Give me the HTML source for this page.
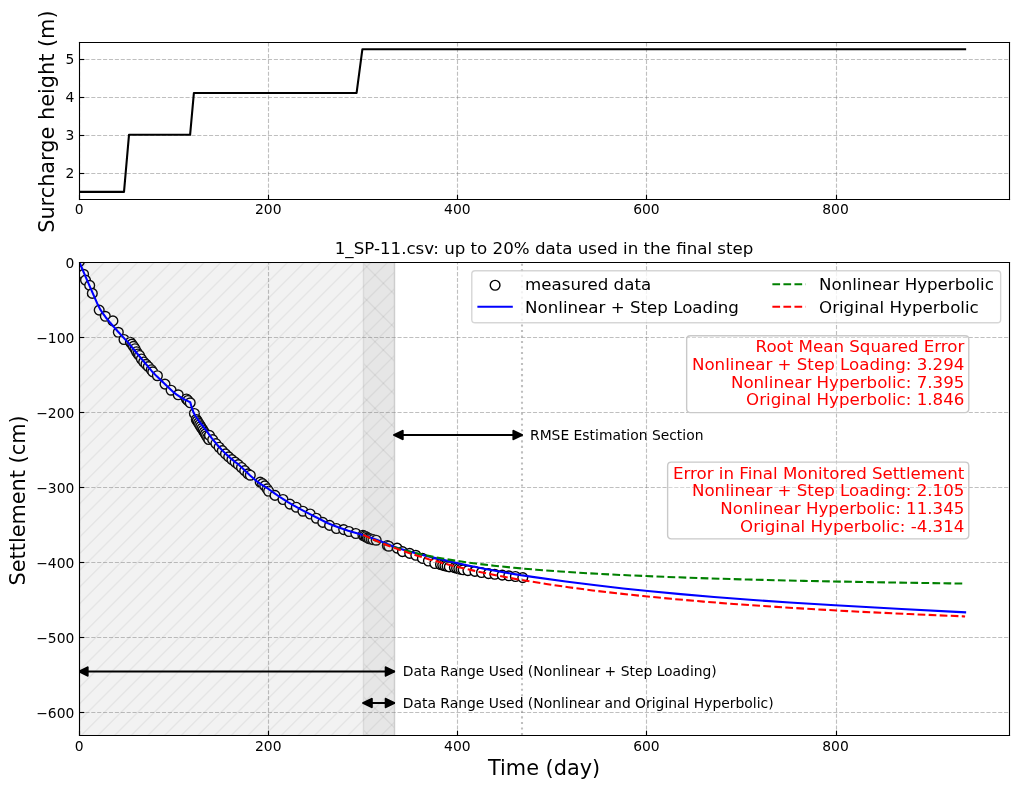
<!DOCTYPE html>
<html><head><meta charset="utf-8"><title>Settlement plot</title>
<style>html,body{margin:0;padding:0;background:#fff;overflow:hidden}svg{display:block;will-change:transform}
text{font-family:"DejaVu Sans","Liberation Sans",sans-serif}</style></head>
<body>
<svg width="1018" height="789" viewBox="0 0 732.96 568.08" version="1.1">

<defs>
<style type="text/css">*{stroke-linejoin: round; stroke-linecap: butt}</style>
</defs>
<g id="figure_1">
<g id="patch_1">
<path d="M 0 568.08
L 732.96 568.08
L 732.96 0
L 0 0
z
" style="fill: #ffffff"/>
</g>
<g id="axes_1">
<g id="patch_2">
<path d="M 56.988 143.316
L 726.48 143.316
L 726.48 30.276
L 56.988 30.276
z
" style="fill: #ffffff"/>
</g>
<g id="matplotlib.axis_1">
<g id="xtick_1">
<g id="line2d_1">
<path d="M 57.2400 143.6400
L 57.2400 30.6000
" clip-path="url(#p3e87ea8ec2)" style="fill: none; stroke-dasharray: 2.96,1.28; stroke-dashoffset: 0; stroke: #808080; stroke-opacity: 0.5; stroke-width: 0.8"/>
</g>
<g id="line2d_2">
<defs>
<path id="m92da7aff10" d="M 0 0
L 0 -3.5
" style="stroke: #000000; stroke-width: 0.8"/>
</defs>
<g>
<use href="#m92da7aff10" x="57.2400" y="143.6400" style="stroke: #000000; stroke-width: 0.8"/>
</g>
</g>
<g id="text_1">
<text style="font-size: 10px; font-family: 'DejaVu Sans', 'Bitstream Vera Sans', 'Computer Modern Sans Serif', 'Lucida Grande', 'Verdana', 'Geneva', 'Lucid', 'Arial', 'Helvetica', 'Avant Garde', sans-serif; text-anchor: middle" x="56.988" y="154.414438" transform="rotate(-0 56.988 154.414438)">0</text>
</g>
</g>
<g id="xtick_2">
<g id="line2d_3">
<path d="M 193.3200 143.6400
L 193.3200 30.6000
" clip-path="url(#p3e87ea8ec2)" style="fill: none; stroke-dasharray: 2.96,1.28; stroke-dashoffset: 0; stroke: #808080; stroke-opacity: 0.5; stroke-width: 0.8"/>
</g>
<g id="line2d_4">
<g>
<use href="#m92da7aff10" x="193.3200" y="143.6400" style="stroke: #000000; stroke-width: 0.8"/>
</g>
</g>
<g id="text_2">
<text style="font-size: 10px; font-family: 'DejaVu Sans', 'Bitstream Vera Sans', 'Computer Modern Sans Serif', 'Lucida Grande', 'Verdana', 'Geneva', 'Lucid', 'Arial', 'Helvetica', 'Avant Garde', sans-serif; text-anchor: middle" x="193.14" y="154.414438" transform="rotate(-0 193.14 154.414438)">200</text>
</g>
</g>
<g id="xtick_3">
<g id="line2d_5">
<path d="M 329.4000 143.6400
L 329.4000 30.6000
" clip-path="url(#p3e87ea8ec2)" style="fill: none; stroke-dasharray: 2.96,1.28; stroke-dashoffset: 0; stroke: #808080; stroke-opacity: 0.5; stroke-width: 0.8"/>
</g>
<g id="line2d_6">
<g>
<use href="#m92da7aff10" x="329.4000" y="143.6400" style="stroke: #000000; stroke-width: 0.8"/>
</g>
</g>
<g id="text_3">
<text style="font-size: 10px; font-family: 'DejaVu Sans', 'Bitstream Vera Sans', 'Computer Modern Sans Serif', 'Lucida Grande', 'Verdana', 'Geneva', 'Lucid', 'Arial', 'Helvetica', 'Avant Garde', sans-serif; text-anchor: middle" x="329.292" y="154.414438" transform="rotate(-0 329.292 154.414438)">400</text>
</g>
</g>
<g id="xtick_4">
<g id="line2d_7">
<path d="M 465.4800 143.6400
L 465.4800 30.6000
" clip-path="url(#p3e87ea8ec2)" style="fill: none; stroke-dasharray: 2.96,1.28; stroke-dashoffset: 0; stroke: #808080; stroke-opacity: 0.5; stroke-width: 0.8"/>
</g>
<g id="line2d_8">
<g>
<use href="#m92da7aff10" x="465.4800" y="143.6400" style="stroke: #000000; stroke-width: 0.8"/>
</g>
</g>
<g id="text_4">
<text style="font-size: 10px; font-family: 'DejaVu Sans', 'Bitstream Vera Sans', 'Computer Modern Sans Serif', 'Lucida Grande', 'Verdana', 'Geneva', 'Lucid', 'Arial', 'Helvetica', 'Avant Garde', sans-serif; text-anchor: middle" x="465.444" y="154.414438" transform="rotate(-0 465.444 154.414438)">600</text>
</g>
</g>
<g id="xtick_5">
<g id="line2d_9">
<path d="M 602.2800 143.6400
L 602.2800 30.6000
" clip-path="url(#p3e87ea8ec2)" style="fill: none; stroke-dasharray: 2.96,1.28; stroke-dashoffset: 0; stroke: #808080; stroke-opacity: 0.5; stroke-width: 0.8"/>
</g>
<g id="line2d_10">
<g>
<use href="#m92da7aff10" x="602.2800" y="143.6400" style="stroke: #000000; stroke-width: 0.8"/>
</g>
</g>
<g id="text_5">
<text style="font-size: 10px; font-family: 'DejaVu Sans', 'Bitstream Vera Sans', 'Computer Modern Sans Serif', 'Lucida Grande', 'Verdana', 'Geneva', 'Lucid', 'Arial', 'Helvetica', 'Avant Garde', sans-serif; text-anchor: middle" x="601.596" y="154.414438" transform="rotate(-0 601.596 154.414438)">800</text>
</g>
</g>
</g>
<g id="matplotlib.axis_2">
<g id="ytick_1">
<g id="line2d_11">
<path d="M 57.2400 124.9200
L 726.8400 124.9200
" clip-path="url(#p3e87ea8ec2)" style="fill: none; stroke-dasharray: 2.96,1.28; stroke-dashoffset: 0; stroke: #808080; stroke-opacity: 0.5; stroke-width: 0.8"/>
</g>
<g id="line2d_12">
<defs>
<path id="m33c4ce201d" d="M 0 0
L 3.5 0
" style="stroke: #000000; stroke-width: 0.8"/>
</defs>
<g>
<use href="#m33c4ce201d" x="57.2400" y="124.9200" style="stroke: #000000; stroke-width: 0.8"/>
</g>
</g>
<g id="text_6">
<text style="font-size: 10px; font-family: 'DejaVu Sans', 'Bitstream Vera Sans', 'Computer Modern Sans Serif', 'Lucida Grande', 'Verdana', 'Geneva', 'Lucid', 'Arial', 'Helvetica', 'Avant Garde', sans-serif; text-anchor: end" x="53.488" y="128.275219" transform="rotate(-0 53.488 128.275219)">2</text>
</g>
</g>
<g id="ytick_2">
<g id="line2d_13">
<path d="M 57.2400 97.5600
L 726.8400 97.5600
" clip-path="url(#p3e87ea8ec2)" style="fill: none; stroke-dasharray: 2.96,1.28; stroke-dashoffset: 0; stroke: #808080; stroke-opacity: 0.5; stroke-width: 0.8"/>
</g>
<g id="line2d_14">
<g>
<use href="#m33c4ce201d" x="57.2400" y="97.5600" style="stroke: #000000; stroke-width: 0.8"/>
</g>
</g>
<g id="text_7">
<text style="font-size: 10px; font-family: 'DejaVu Sans', 'Bitstream Vera Sans', 'Computer Modern Sans Serif', 'Lucida Grande', 'Verdana', 'Geneva', 'Lucid', 'Arial', 'Helvetica', 'Avant Garde', sans-serif; text-anchor: end" x="53.488" y="100.871582" transform="rotate(-0 53.488 100.871582)">3</text>
</g>
</g>
<g id="ytick_3">
<g id="line2d_15">
<path d="M 57.2400 70.2000
L 726.8400 70.2000
" clip-path="url(#p3e87ea8ec2)" style="fill: none; stroke-dasharray: 2.96,1.28; stroke-dashoffset: 0; stroke: #808080; stroke-opacity: 0.5; stroke-width: 0.8"/>
</g>
<g id="line2d_16">
<g>
<use href="#m33c4ce201d" x="57.2400" y="70.2000" style="stroke: #000000; stroke-width: 0.8"/>
</g>
</g>
<g id="text_8">
<text style="font-size: 10px; font-family: 'DejaVu Sans', 'Bitstream Vera Sans', 'Computer Modern Sans Serif', 'Lucida Grande', 'Verdana', 'Geneva', 'Lucid', 'Arial', 'Helvetica', 'Avant Garde', sans-serif; text-anchor: end" x="53.488" y="73.467946" transform="rotate(-0 53.488 73.467946)">4</text>
</g>
</g>
<g id="ytick_4">
<g id="line2d_17">
<path d="M 57.2400 42.8400
L 726.8400 42.8400
" clip-path="url(#p3e87ea8ec2)" style="fill: none; stroke-dasharray: 2.96,1.28; stroke-dashoffset: 0; stroke: #808080; stroke-opacity: 0.5; stroke-width: 0.8"/>
</g>
<g id="line2d_18">
<g>
<use href="#m33c4ce201d" x="57.2400" y="42.8400" style="stroke: #000000; stroke-width: 0.8"/>
</g>
</g>
<g id="text_9">
<text style="font-size: 10px; font-family: 'DejaVu Sans', 'Bitstream Vera Sans', 'Computer Modern Sans Serif', 'Lucida Grande', 'Verdana', 'Geneva', 'Lucid', 'Arial', 'Helvetica', 'Avant Garde', sans-serif; text-anchor: end" x="53.488" y="46.06431" transform="rotate(-0 53.488 46.06431)">5</text>
</g>
</g>
<g id="text_10">
<g transform="translate(-1.440 0.792)"><text style="font-size: 15px; font-family: 'DejaVu Sans', 'Bitstream Vera Sans', 'Computer Modern Sans Serif', 'Lucida Grande', 'Verdana', 'Geneva', 'Lucid', 'Arial', 'Helvetica', 'Avant Garde', sans-serif; text-anchor: middle" x="40.005969" y="86.796" transform="rotate(-90 40.005969 86.796)">Surcharge height (m)</text></g>
</g>
</g>
<g id="line2d_19">
<path d="M 56.988 138.177818
L 89.28 138.177818
L 92.88 97.072364
L 136.872 97.072364
L 139.608 66.928364
L 256.752 66.928364
L 260.928 35.414182
L 694.872 35.414182
" clip-path="url(#p3e87ea8ec2)" style="fill: none; stroke: #000000; stroke-width: 1.5; stroke-linecap: square"/>
</g>
<g id="patch_3">
<path d="M 57.2400 143.6400
L 57.2400 30.6000
" style="fill: none; stroke: #000000; stroke-width: 0.8; stroke-linejoin: miter; stroke-linecap: square"/>
</g>
<g id="patch_4">
<path d="M 726.8400 143.6400
L 726.8400 30.6000
" style="fill: none; stroke: #000000; stroke-width: 0.8; stroke-linejoin: miter; stroke-linecap: square"/>
</g>
<g id="patch_5">
<path d="M 57.2400 143.6400
L 726.8400 143.6400
" style="fill: none; stroke: #000000; stroke-width: 0.8; stroke-linejoin: miter; stroke-linecap: square"/>
</g>
<g id="patch_6">
<path d="M 57.2400 30.6000
L 726.8400 30.6000
" style="fill: none; stroke: #000000; stroke-width: 0.8; stroke-linejoin: miter; stroke-linecap: square"/>
</g>
</g>
<g id="axes_2">
<g id="patch_7">
<path d="M 56.988 529.416
L 726.48 529.416
L 726.48 188.928
L 56.988 188.928
z
" style="fill: #ffffff"/>
</g>
<g id="line2d_20">
<defs>
<path id="m0ef753e16d" d="M 0 3.5
C 0.928211 3.5 1.81853 3.131218 2.474874 2.474874
C 3.131218 1.81853 3.5 0.928211 3.5 0
C 3.5 -0.928211 3.131218 -1.81853 2.474874 -2.474874
C 1.81853 -3.131218 0.928211 -3.5 0 -3.5
C -0.928211 -3.5 -1.81853 -3.131218 -2.474874 -2.474874
C -3.131218 -1.81853 -3.5 -0.928211 -3.5 0
C -3.5 0.928211 -3.131218 1.81853 -2.474874 2.474874
C -1.81853 3.131218 -0.928211 3.5 0 3.5
z
" style="stroke: #000000"/>
</defs>
<g clip-path="url(#p34df9579a1)">
<use href="#m0ef753e16d" x="57.168" y="188.352" style="fill: #ffffff; stroke: #000000"/>
<use href="#m0ef753e16d" x="60.192" y="197.496" style="fill: #ffffff; stroke: #000000"/>
<use href="#m0ef753e16d" x="61.56" y="201.672" style="fill: #ffffff; stroke: #000000"/>
<use href="#m0ef753e16d" x="64.584" y="205.488" style="fill: #ffffff; stroke: #000000"/>
<use href="#m0ef753e16d" x="66.456" y="211.248" style="fill: #ffffff; stroke: #000000"/>
<use href="#m0ef753e16d" x="71.424" y="223.272" style="fill: #ffffff; stroke: #000000"/>
<use href="#m0ef753e16d" x="75.816" y="227.736" style="fill: #ffffff; stroke: #000000"/>
<use href="#m0ef753e16d" x="81.288" y="231.048" style="fill: #ffffff; stroke: #000000"/>
<use href="#m0ef753e16d" x="85.176" y="239.256" style="fill: #ffffff; stroke: #000000"/>
<use href="#m0ef753e16d" x="89.28" y="244.44" style="fill: #ffffff; stroke: #000000"/>
<use href="#m0ef753e16d" x="93.888" y="246.384" style="fill: #ffffff; stroke: #000000"/>
<use href="#m0ef753e16d" x="94.968" y="247.752" style="fill: #ffffff; stroke: #000000"/>
<use href="#m0ef753e16d" x="96.12" y="249.408" style="fill: #ffffff; stroke: #000000"/>
<use href="#m0ef753e16d" x="97.2" y="251.064" style="fill: #ffffff; stroke: #000000"/>
<use href="#m0ef753e16d" x="98.28" y="253.224" style="fill: #ffffff; stroke: #000000"/>
<use href="#m0ef753e16d" x="99.36" y="254.88" style="fill: #ffffff; stroke: #000000"/>
<use href="#m0ef753e16d" x="100.44" y="255.96" style="fill: #ffffff; stroke: #000000"/>
<use href="#m0ef753e16d" x="101.808" y="258.48" style="fill: #ffffff; stroke: #000000"/>
<use href="#m0ef753e16d" x="103.464" y="260.64" style="fill: #ffffff; stroke: #000000"/>
<use href="#m0ef753e16d" x="105.12" y="262.296" style="fill: #ffffff; stroke: #000000"/>
<use href="#m0ef753e16d" x="106.776" y="263.952" style="fill: #ffffff; stroke: #000000"/>
<use href="#m0ef753e16d" x="108.936" y="266.184" style="fill: #ffffff; stroke: #000000"/>
<use href="#m0ef753e16d" x="110.016" y="267.768" style="fill: #ffffff; stroke: #000000"/>
<use href="#m0ef753e16d" x="113.328" y="270.504" style="fill: #ffffff; stroke: #000000"/>
<use href="#m0ef753e16d" x="118.8" y="276.552" style="fill: #ffffff; stroke: #000000"/>
<use href="#m0ef753e16d" x="123.192" y="280.944" style="fill: #ffffff; stroke: #000000"/>
<use href="#m0ef753e16d" x="128.304" y="284.256" style="fill: #ffffff; stroke: #000000"/>
<use href="#m0ef753e16d" x="134.208" y="287.28" style="fill: #ffffff; stroke: #000000"/>
<use href="#m0ef753e16d" x="135.288" y="288.36" style="fill: #ffffff; stroke: #000000"/>
<use href="#m0ef753e16d" x="136.944" y="290.016" style="fill: #ffffff; stroke: #000000"/>
<use href="#m0ef753e16d" x="139.968" y="297.72" style="fill: #ffffff; stroke: #000000"/>
<use href="#m0ef753e16d" x="141.336" y="302.04" style="fill: #ffffff; stroke: #000000"/>
<use href="#m0ef753e16d" x="142.056" y="303.12" style="fill: #ffffff; stroke: #000000"/>
<use href="#m0ef753e16d" x="142.884" y="304.452" style="fill: #ffffff; stroke: #000000"/>
<use href="#m0ef753e16d" x="143.712" y="305.784" style="fill: #ffffff; stroke: #000000"/>
<use href="#m0ef753e16d" x="144.54" y="307.116" style="fill: #ffffff; stroke: #000000"/>
<use href="#m0ef753e16d" x="145.368" y="308.448" style="fill: #ffffff; stroke: #000000"/>
<use href="#m0ef753e16d" x="146.196" y="309.78" style="fill: #ffffff; stroke: #000000"/>
<use href="#m0ef753e16d" x="147.024" y="311.112" style="fill: #ffffff; stroke: #000000"/>
<use href="#m0ef753e16d" x="147.852" y="312.444" style="fill: #ffffff; stroke: #000000"/>
<use href="#m0ef753e16d" x="148.68" y="313.776" style="fill: #ffffff; stroke: #000000"/>
<use href="#m0ef753e16d" x="149.508" y="315.108" style="fill: #ffffff; stroke: #000000"/>
<use href="#m0ef753e16d" x="150.336" y="316.44" style="fill: #ffffff; stroke: #000000"/>
<use href="#m0ef753e16d" x="150.84" y="313.497071" style="fill: #ffffff; stroke: #000000"/>
<use href="#m0ef753e16d" x="153.144" y="316.533675" style="fill: #ffffff; stroke: #000000"/>
<use href="#m0ef753e16d" x="155.448" y="319.370405" style="fill: #ffffff; stroke: #000000"/>
<use href="#m0ef753e16d" x="157.752" y="322.021653" style="fill: #ffffff; stroke: #000000"/>
<use href="#m0ef753e16d" x="160.056" y="324.479631" style="fill: #ffffff; stroke: #000000"/>
<use href="#m0ef753e16d" x="162.36" y="326.792403" style="fill: #ffffff; stroke: #000000"/>
<use href="#m0ef753e16d" x="164.664" y="328.955355" style="fill: #ffffff; stroke: #000000"/>
<use href="#m0ef753e16d" x="166.968" y="330.923764" style="fill: #ffffff; stroke: #000000"/>
<use href="#m0ef753e16d" x="169.272" y="332.714242" style="fill: #ffffff; stroke: #000000"/>
<use href="#m0ef753e16d" x="171.576" y="334.544445" style="fill: #ffffff; stroke: #000000"/>
<use href="#m0ef753e16d" x="173.88" y="336.616558" style="fill: #ffffff; stroke: #000000"/>
<use href="#m0ef753e16d" x="176.184" y="338.881462" style="fill: #ffffff; stroke: #000000"/>
<use href="#m0ef753e16d" x="178.488" y="341.131207" style="fill: #ffffff; stroke: #000000"/>
<use href="#m0ef753e16d" x="180.216" y="342.144" style="fill: #ffffff; stroke: #000000"/>
<use href="#m0ef753e16d" x="187.344" y="347.112" style="fill: #ffffff; stroke: #000000"/>
<use href="#m0ef753e16d" x="189" y="348.192" style="fill: #ffffff; stroke: #000000"/>
<use href="#m0ef753e16d" x="190.656" y="349.848" style="fill: #ffffff; stroke: #000000"/>
<use href="#m0ef753e16d" x="192.312" y="352.008" style="fill: #ffffff; stroke: #000000"/>
<use href="#m0ef753e16d" x="193.392" y="353.664" style="fill: #ffffff; stroke: #000000"/>
<use href="#m0ef753e16d" x="198" y="356.688" style="fill: #ffffff; stroke: #000000"/>
<use href="#m0ef753e16d" x="203.76" y="359.64" style="fill: #ffffff; stroke: #000000"/>
<use href="#m0ef753e16d" x="208.728" y="362.952" style="fill: #ffffff; stroke: #000000"/>
<use href="#m0ef753e16d" x="213.336" y="365.184" style="fill: #ffffff; stroke: #000000"/>
<use href="#m0ef753e16d" x="218.088" y="368.064" style="fill: #ffffff; stroke: #000000"/>
<use href="#m0ef753e16d" x="223.344" y="370.08" style="fill: #ffffff; stroke: #000000"/>
<use href="#m0ef753e16d" x="227.736" y="373.104" style="fill: #ffffff; stroke: #000000"/>
<use href="#m0ef753e16d" x="232.416" y="376.128" style="fill: #ffffff; stroke: #000000"/>
<use href="#m0ef753e16d" x="237.312" y="378.288" style="fill: #ffffff; stroke: #000000"/>
<use href="#m0ef753e16d" x="242.208" y="380.52" style="fill: #ffffff; stroke: #000000"/>
<use href="#m0ef753e16d" x="247.464" y="381.312" style="fill: #ffffff; stroke: #000000"/>
<use href="#m0ef753e16d" x="251.28" y="382.68" style="fill: #ffffff; stroke: #000000"/>
<use href="#m0ef753e16d" x="256.176" y="384.12" style="fill: #ffffff; stroke: #000000"/>
<use href="#m0ef753e16d" x="261.288" y="385.344" style="fill: #ffffff; stroke: #000000"/>
<use href="#m0ef753e16d" x="262.368" y="385.92" style="fill: #ffffff; stroke: #000000"/>
<use href="#m0ef753e16d" x="263.52" y="386.424" style="fill: #ffffff; stroke: #000000"/>
<use href="#m0ef753e16d" x="264.6" y="387.288" style="fill: #ffffff; stroke: #000000"/>
<use href="#m0ef753e16d" x="265.68" y="387.792" style="fill: #ffffff; stroke: #000000"/>
<use href="#m0ef753e16d" x="267.12" y="388.08" style="fill: #ffffff; stroke: #000000"/>
<use href="#m0ef753e16d" x="268.56" y="388.512" style="fill: #ffffff; stroke: #000000"/>
<use href="#m0ef753e16d" x="270.864" y="388.944" style="fill: #ffffff; stroke: #000000"/>
<use href="#m0ef753e16d" x="278.856" y="392.76" style="fill: #ffffff; stroke: #000000"/>
<use href="#m0ef753e16d" x="279.936" y="393.264" style="fill: #ffffff; stroke: #000000"/>
<use href="#m0ef753e16d" x="285.912" y="394.632" style="fill: #ffffff; stroke: #000000"/>
<use href="#m0ef753e16d" x="289.8" y="397.152" style="fill: #ffffff; stroke: #000000"/>
<use href="#m0ef753e16d" x="294.984" y="398.448" style="fill: #ffffff; stroke: #000000"/>
<use href="#m0ef753e16d" x="299.376" y="399.816" style="fill: #ffffff; stroke: #000000"/>
<use href="#m0ef753e16d" x="304.128" y="402.048" style="fill: #ffffff; stroke: #000000"/>
<use href="#m0ef753e16d" x="308.448" y="403.92" style="fill: #ffffff; stroke: #000000"/>
<use href="#m0ef753e16d" x="313.056" y="405.72" style="fill: #ffffff; stroke: #000000"/>
<use href="#m0ef753e16d" x="317.16" y="406.44" style="fill: #ffffff; stroke: #000000"/>
<use href="#m0ef753e16d" x="318.744" y="406.872" style="fill: #ffffff; stroke: #000000"/>
<use href="#m0ef753e16d" x="320.328" y="407.304" style="fill: #ffffff; stroke: #000000"/>
<use href="#m0ef753e16d" x="321.912" y="407.736" style="fill: #ffffff; stroke: #000000"/>
<use href="#m0ef753e16d" x="323.496" y="408.168" style="fill: #ffffff; stroke: #000000"/>
<use href="#m0ef753e16d" x="327.168" y="408.672" style="fill: #ffffff; stroke: #000000"/>
<use href="#m0ef753e16d" x="328.752" y="409.068" style="fill: #ffffff; stroke: #000000"/>
<use href="#m0ef753e16d" x="330.336" y="409.464" style="fill: #ffffff; stroke: #000000"/>
<use href="#m0ef753e16d" x="331.92" y="409.86" style="fill: #ffffff; stroke: #000000"/>
<use href="#m0ef753e16d" x="333.504" y="410.256" style="fill: #ffffff; stroke: #000000"/>
<use href="#m0ef753e16d" x="336.888" y="410.832" style="fill: #ffffff; stroke: #000000"/>
<use href="#m0ef753e16d" x="341.928" y="411.408" style="fill: #ffffff; stroke: #000000"/>
<use href="#m0ef753e16d" x="346.68" y="412.2" style="fill: #ffffff; stroke: #000000"/>
<use href="#m0ef753e16d" x="351.72" y="412.992" style="fill: #ffffff; stroke: #000000"/>
<use href="#m0ef753e16d" x="356.256" y="413.496" style="fill: #ffffff; stroke: #000000"/>
<use href="#m0ef753e16d" x="361.584" y="414.072" style="fill: #ffffff; stroke: #000000"/>
<use href="#m0ef753e16d" x="366.336" y="414.576" style="fill: #ffffff; stroke: #000000"/>
<use href="#m0ef753e16d" x="371.088" y="415.08" style="fill: #ffffff; stroke: #000000"/>
<use href="#m0ef753e16d" x="376.416" y="415.872" style="fill: #ffffff; stroke: #000000"/>
</g>
</g>
<g id="patch_8">
<path d="M 57.2400 529.5600
L 284.0400 529.5600
L 284.0400 189.0000
L 57.2400 189.0000
z
" clip-path="url(#p34df9579a1)" style="fill: url(#h735a1b40cc); opacity: 0.1; stroke: #000000; stroke-linejoin: miter"/>
</g>
<g id="patch_9">
<path d="M 261.7200 529.5600
L 284.0400 529.5600
L 284.0400 189.0000
L 261.7200 189.0000
z
" clip-path="url(#p34df9579a1)" style="fill: url(#ha346d79425); opacity: 0.1; stroke: #000000; stroke-linejoin: miter"/>
</g>
<g id="matplotlib.axis_3">
<g id="xtick_6">
<g id="line2d_21">
<path d="M 57.2400 529.5600
L 57.2400 189.0000
" clip-path="url(#p34df9579a1)" style="fill: none; stroke-dasharray: 2.96,1.28; stroke-dashoffset: 0; stroke: #808080; stroke-opacity: 0.5; stroke-width: 0.8"/>
</g>
<g id="line2d_22">
<g>
<use href="#m92da7aff10" x="57.2400" y="529.5600" style="stroke: #000000; stroke-width: 0.8"/>
</g>
</g>
<g id="text_11">
<text style="font-size: 10px; font-family: 'DejaVu Sans', 'Bitstream Vera Sans', 'Computer Modern Sans Serif', 'Lucida Grande', 'Verdana', 'Geneva', 'Lucid', 'Arial', 'Helvetica', 'Avant Garde', sans-serif; text-anchor: middle" x="56.988" y="540.514437" transform="rotate(-0 56.988 540.514437)">0</text>
</g>
</g>
<g id="xtick_7">
<g id="line2d_23">
<path d="M 193.3200 529.5600
L 193.3200 189.0000
" clip-path="url(#p34df9579a1)" style="fill: none; stroke-dasharray: 2.96,1.28; stroke-dashoffset: 0; stroke: #808080; stroke-opacity: 0.5; stroke-width: 0.8"/>
</g>
<g id="line2d_24">
<g>
<use href="#m92da7aff10" x="193.3200" y="529.5600" style="stroke: #000000; stroke-width: 0.8"/>
</g>
</g>
<g id="text_12">
<text style="font-size: 10px; font-family: 'DejaVu Sans', 'Bitstream Vera Sans', 'Computer Modern Sans Serif', 'Lucida Grande', 'Verdana', 'Geneva', 'Lucid', 'Arial', 'Helvetica', 'Avant Garde', sans-serif; text-anchor: middle" x="193.14" y="540.514437" transform="rotate(-0 193.14 540.514437)">200</text>
</g>
</g>
<g id="xtick_8">
<g id="line2d_25">
<path d="M 329.4000 529.5600
L 329.4000 189.0000
" clip-path="url(#p34df9579a1)" style="fill: none; stroke-dasharray: 2.96,1.28; stroke-dashoffset: 0; stroke: #808080; stroke-opacity: 0.5; stroke-width: 0.8"/>
</g>
<g id="line2d_26">
<g>
<use href="#m92da7aff10" x="329.4000" y="529.5600" style="stroke: #000000; stroke-width: 0.8"/>
</g>
</g>
<g id="text_13">
<text style="font-size: 10px; font-family: 'DejaVu Sans', 'Bitstream Vera Sans', 'Computer Modern Sans Serif', 'Lucida Grande', 'Verdana', 'Geneva', 'Lucid', 'Arial', 'Helvetica', 'Avant Garde', sans-serif; text-anchor: middle" x="329.292" y="540.514437" transform="rotate(-0 329.292 540.514437)">400</text>
</g>
</g>
<g id="xtick_9">
<g id="line2d_27">
<path d="M 465.4800 529.5600
L 465.4800 189.0000
" clip-path="url(#p34df9579a1)" style="fill: none; stroke-dasharray: 2.96,1.28; stroke-dashoffset: 0; stroke: #808080; stroke-opacity: 0.5; stroke-width: 0.8"/>
</g>
<g id="line2d_28">
<g>
<use href="#m92da7aff10" x="465.4800" y="529.5600" style="stroke: #000000; stroke-width: 0.8"/>
</g>
</g>
<g id="text_14">
<text style="font-size: 10px; font-family: 'DejaVu Sans', 'Bitstream Vera Sans', 'Computer Modern Sans Serif', 'Lucida Grande', 'Verdana', 'Geneva', 'Lucid', 'Arial', 'Helvetica', 'Avant Garde', sans-serif; text-anchor: middle" x="465.444" y="540.514437" transform="rotate(-0 465.444 540.514437)">600</text>
</g>
</g>
<g id="xtick_10">
<g id="line2d_29">
<path d="M 602.2800 529.5600
L 602.2800 189.0000
" clip-path="url(#p34df9579a1)" style="fill: none; stroke-dasharray: 2.96,1.28; stroke-dashoffset: 0; stroke: #808080; stroke-opacity: 0.5; stroke-width: 0.8"/>
</g>
<g id="line2d_30">
<g>
<use href="#m92da7aff10" x="602.2800" y="529.5600" style="stroke: #000000; stroke-width: 0.8"/>
</g>
</g>
<g id="text_15">
<text style="font-size: 10px; font-family: 'DejaVu Sans', 'Bitstream Vera Sans', 'Computer Modern Sans Serif', 'Lucida Grande', 'Verdana', 'Geneva', 'Lucid', 'Arial', 'Helvetica', 'Avant Garde', sans-serif; text-anchor: middle" x="601.596" y="540.514437" transform="rotate(-0 601.596 540.514437)">800</text>
</g>
</g>
<g id="text_16">
<text style="font-size: 15px; font-family: 'DejaVu Sans', 'Bitstream Vera Sans', 'Computer Modern Sans Serif', 'Lucida Grande', 'Verdana', 'Geneva', 'Lucid', 'Arial', 'Helvetica', 'Avant Garde', sans-serif; text-anchor: middle" x="391.734" y="557.991781" transform="rotate(-0 391.734 557.991781)">Time (day)</text>
</g>
</g>
<g id="matplotlib.axis_4">
<g id="ytick_5">
<g id="line2d_31">
<path d="M 57.2400 513.0000
L 726.8400 513.0000
" clip-path="url(#p34df9579a1)" style="fill: none; stroke-dasharray: 2.96,1.28; stroke-dashoffset: 0; stroke: #808080; stroke-opacity: 0.5; stroke-width: 0.8"/>
</g>
<g id="line2d_32">
<g>
<use href="#m33c4ce201d" x="57.2400" y="513.0000" style="stroke: #000000; stroke-width: 0.8"/>
</g>
</g>
<g id="text_17">
<text style="font-size: 10px; font-family: 'DejaVu Sans', 'Bitstream Vera Sans', 'Computer Modern Sans Serif', 'Lucida Grande', 'Verdana', 'Geneva', 'Lucid', 'Arial', 'Helvetica', 'Avant Garde', sans-serif; text-anchor: end" x="53.488" y="516.727219" transform="rotate(-0 53.488 516.727219)">−600</text>
</g>
</g>
<g id="ytick_6">
<g id="line2d_33">
<path d="M 57.2400 459.0000
L 726.8400 459.0000
" clip-path="url(#p34df9579a1)" style="fill: none; stroke-dasharray: 2.96,1.28; stroke-dashoffset: 0; stroke: #808080; stroke-opacity: 0.5; stroke-width: 0.8"/>
</g>
<g id="line2d_34">
<g>
<use href="#m33c4ce201d" x="57.2400" y="459.0000" style="stroke: #000000; stroke-width: 0.8"/>
</g>
</g>
<g id="text_18">
<text style="font-size: 10px; font-family: 'DejaVu Sans', 'Bitstream Vera Sans', 'Computer Modern Sans Serif', 'Lucida Grande', 'Verdana', 'Geneva', 'Lucid', 'Arial', 'Helvetica', 'Avant Garde', sans-serif; text-anchor: end" x="53.488" y="462.727219" transform="rotate(-0 53.488 462.727219)">−500</text>
</g>
</g>
<g id="ytick_7">
<g id="line2d_35">
<path d="M 57.2400 405.0000
L 726.8400 405.0000
" clip-path="url(#p34df9579a1)" style="fill: none; stroke-dasharray: 2.96,1.28; stroke-dashoffset: 0; stroke: #808080; stroke-opacity: 0.5; stroke-width: 0.8"/>
</g>
<g id="line2d_36">
<g>
<use href="#m33c4ce201d" x="57.2400" y="405.0000" style="stroke: #000000; stroke-width: 0.8"/>
</g>
</g>
<g id="text_19">
<text style="font-size: 10px; font-family: 'DejaVu Sans', 'Bitstream Vera Sans', 'Computer Modern Sans Serif', 'Lucida Grande', 'Verdana', 'Geneva', 'Lucid', 'Arial', 'Helvetica', 'Avant Garde', sans-serif; text-anchor: end" x="53.488" y="408.727219" transform="rotate(-0 53.488 408.727219)">−400</text>
</g>
</g>
<g id="ytick_8">
<g id="line2d_37">
<path d="M 57.2400 351.0000
L 726.8400 351.0000
" clip-path="url(#p34df9579a1)" style="fill: none; stroke-dasharray: 2.96,1.28; stroke-dashoffset: 0; stroke: #808080; stroke-opacity: 0.5; stroke-width: 0.8"/>
</g>
<g id="line2d_38">
<g>
<use href="#m33c4ce201d" x="57.2400" y="351.0000" style="stroke: #000000; stroke-width: 0.8"/>
</g>
</g>
<g id="text_20">
<text style="font-size: 10px; font-family: 'DejaVu Sans', 'Bitstream Vera Sans', 'Computer Modern Sans Serif', 'Lucida Grande', 'Verdana', 'Geneva', 'Lucid', 'Arial', 'Helvetica', 'Avant Garde', sans-serif; text-anchor: end" x="53.488" y="354.727219" transform="rotate(-0 53.488 354.727219)">−300</text>
</g>
</g>
<g id="ytick_9">
<g id="line2d_39">
<path d="M 57.2400 297.0000
L 726.8400 297.0000
" clip-path="url(#p34df9579a1)" style="fill: none; stroke-dasharray: 2.96,1.28; stroke-dashoffset: 0; stroke: #808080; stroke-opacity: 0.5; stroke-width: 0.8"/>
</g>
<g id="line2d_40">
<g>
<use href="#m33c4ce201d" x="57.2400" y="297.0000" style="stroke: #000000; stroke-width: 0.8"/>
</g>
</g>
<g id="text_21">
<text style="font-size: 10px; font-family: 'DejaVu Sans', 'Bitstream Vera Sans', 'Computer Modern Sans Serif', 'Lucida Grande', 'Verdana', 'Geneva', 'Lucid', 'Arial', 'Helvetica', 'Avant Garde', sans-serif; text-anchor: end" x="53.488" y="300.727219" transform="rotate(-0 53.488 300.727219)">−200</text>
</g>
</g>
<g id="ytick_10">
<g id="line2d_41">
<path d="M 57.2400 243.0000
L 726.8400 243.0000
" clip-path="url(#p34df9579a1)" style="fill: none; stroke-dasharray: 2.96,1.28; stroke-dashoffset: 0; stroke: #808080; stroke-opacity: 0.5; stroke-width: 0.8"/>
</g>
<g id="line2d_42">
<g>
<use href="#m33c4ce201d" x="57.2400" y="243.0000" style="stroke: #000000; stroke-width: 0.8"/>
</g>
</g>
<g id="text_22">
<text style="font-size: 10px; font-family: 'DejaVu Sans', 'Bitstream Vera Sans', 'Computer Modern Sans Serif', 'Lucida Grande', 'Verdana', 'Geneva', 'Lucid', 'Arial', 'Helvetica', 'Avant Garde', sans-serif; text-anchor: end" x="53.488" y="246.727219" transform="rotate(-0 53.488 246.727219)">−100</text>
</g>
</g>
<g id="ytick_11">
<g id="line2d_43">
<path d="M 57.2400 189.0000
L 726.8400 189.0000
" clip-path="url(#p34df9579a1)" style="fill: none; stroke-dasharray: 2.96,1.28; stroke-dashoffset: 0; stroke: #808080; stroke-opacity: 0.5; stroke-width: 0.8"/>
</g>
<g id="line2d_44">
<g>
<use href="#m33c4ce201d" x="57.2400" y="189.0000" style="stroke: #000000; stroke-width: 0.8"/>
</g>
</g>
<g id="text_23">
<text style="font-size: 10px; font-family: 'DejaVu Sans', 'Bitstream Vera Sans', 'Computer Modern Sans Serif', 'Lucida Grande', 'Verdana', 'Geneva', 'Lucid', 'Arial', 'Helvetica', 'Avant Garde', sans-serif; text-anchor: end" x="53.488" y="192.727219" transform="rotate(-0 53.488 192.727219)">0</text>
</g>
</g>
<g id="text_24">
<g transform="translate(-0.720 1.152)"><text style="font-size: 15px; font-family: 'DejaVu Sans', 'Bitstream Vera Sans', 'Computer Modern Sans Serif', 'Lucida Grande', 'Verdana', 'Geneva', 'Lucid', 'Arial', 'Helvetica', 'Avant Garde', sans-serif; text-anchor: middle" x="18.901281" y="359.172" transform="rotate(-90 18.901281 359.172)">Settlement (cm)</text></g>
</g>
</g>
<g id="line2d_45">
<path d="M 57.24 188.928
L 62.446794 201.204157
L 70.457246 219.459868
L 72.059337 222.57562
L 74.06195 225.69622
L 76.064563 228.410721
L 78.868221 231.807684
L 84.87606 238.652279
L 91.284422 245.626851
L 96.491216 251.849238
L 109.30794 267.254061
L 112.912643 270.979932
L 118.119437 276.002414
L 124.928322 282.376129
L 126.930935 283.914557
L 130.535638 286.273535
L 133.339296 287.869929
L 135.742432 289.022717
L 136.944 289.512
L 136.944 289.512
L 138.194412 293.911695
L 139.444824 297.257011
L 140.695236 299.531445
L 143.19606 303.142163
L 145.696884 306.366414
L 148.822915 310.44844
L 152.574151 315.59307
L 156.325387 320.188532
L 159.451417 323.632661
L 162.577447 326.787032
L 165.703477 329.660942
L 168.829508 332.158209
L 171.955538 334.649277
L 174.456362 336.957049
L 180.083216 342.370374
L 184.459658 346.180943
L 186.960482 348.080683
L 190.086513 350.073061
L 193.837749 352.428623
L 198.214191 355.583002
L 201.965427 358.186441
L 206.967075 361.388497
L 211.343518 363.925431
L 218.220784 367.609857
L 235.726553 376.533652
L 240.102995 378.397879
L 244.479437 380.044358
L 250.731497 382.103048
L 257.608764 384.164844
L 263.538452 385.86883
L 270.073809 388.200516
L 274.430714 389.90664
L 283.144523 393.527434
L 287.501427 394.984988
L 294.036784 396.924089
L 302.750593 399.246558
L 313.642854 401.857362
L 335.427377 406.731107
L 348.49809 409.453137
L 359.390352 411.515076
L 370.282613 413.363462
L 383.353327 415.330394
L 407.316302 418.629232
L 429.100824 421.402131
L 448.706894 423.683892
L 468.312965 425.737507
L 490.097487 427.789177
L 514.060462 429.830604
L 542.380342 432.009596
L 568.521769 433.815767
L 601.198553 435.820105
L 649.124503 438.533323
L 688.336643 440.543599
L 694.872 440.856
L 694.872 440.856
" clip-path="url(#p34df9579a1)" style="fill: none; stroke: #0000ff; stroke-width: 1.5; stroke-linecap: square"/>
</g>
<g id="line2d_46">
<path d="M 261.36 385.128
L 265.709619 387.203772
L 271.50911 389.670511
L 277.308602 391.848636
L 283.108094 393.785999
L 288.907585 395.520429
L 296.15695 397.448682
L 303.406314 399.153692
L 312.105552 400.956063
L 320.804789 402.538577
L 330.9539 404.157069
L 342.552883 405.76205
L 355.601739 407.316822
L 370.100468 408.796392
L 386.04907 410.185536
L 403.447545 411.476637
L 423.745766 412.751698
L 446.943732 413.973083
L 473.041445 415.117427
L 503.488776 416.220438
L 538.285726 417.252633
L 578.882167 418.230283
L 626.727973 419.155327
L 683.273017 420.022617
L 694.872 420.17706
L 694.872 420.17706
" clip-path="url(#p34df9579a1)" style="fill: none; stroke-dasharray: 5.55,2.4; stroke-dashoffset: 0; stroke: #008000; stroke-width: 1.5"/>
</g>
<g id="line2d_47">
<path d="M 261.36 385.128
L 268.609365 388.39239
L 275.858729 391.408385
L 283.108094 394.203298
L 291.807331 397.298151
L 300.506569 400.14278
L 309.205806 402.766352
L 319.354916 405.58068
L 329.504027 408.161066
L 341.10301 410.85934
L 352.701993 413.323515
L 365.750849 415.852059
L 378.799706 418.155754
L 393.298435 420.486466
L 409.247037 422.809269
L 426.645512 425.095674
L 444.043987 427.160294
L 462.892334 429.182249
L 483.190555 431.145496
L 506.388522 433.157435
L 531.036361 435.06565
L 558.583946 436.963149
L 587.581405 438.735653
L 619.478609 440.463134
L 654.275559 442.126753
L 693.422127 443.770747
L 694.872 443.827581
L 694.872 443.827581
" clip-path="url(#p34df9579a1)" style="fill: none; stroke-dasharray: 5.55,2.4; stroke-dashoffset: 0; stroke: #ff0000; stroke-width: 1.5"/>
</g>
<g id="line2d_48">
<path d="M 375.8400 529.2000
L 375.8400 188.6400
" clip-path="url(#p34df9579a1)" style="fill: none; stroke-dasharray: 1.5,2.475; stroke-dashoffset: 0; stroke: #808080; stroke-opacity: 0.5; stroke-width: 1.5"/>
</g>
<g id="patch_10">
<path d="M 57.2400 529.5600
L 57.2400 189.0000
" style="fill: none; stroke: #000000; stroke-width: 0.8; stroke-linejoin: miter; stroke-linecap: square"/>
</g>
<g id="patch_11">
<path d="M 726.8400 529.5600
L 726.8400 189.0000
" style="fill: none; stroke: #000000; stroke-width: 0.8; stroke-linejoin: miter; stroke-linecap: square"/>
</g>
<g id="patch_12">
<path d="M 57.2400 529.5600
L 726.8400 529.5600
" style="fill: none; stroke: #000000; stroke-width: 0.8; stroke-linejoin: miter; stroke-linecap: square"/>
</g>
<g id="patch_13">
<path d="M 57.2400 189.0000
L 726.8400 189.0000
" style="fill: none; stroke: #000000; stroke-width: 0.8; stroke-linejoin: miter; stroke-linecap: square"/>
</g>
<g id="patch_14">
<path d="M 283.730949 483.48
Q 170.406 483.48 57.081051 483.48
" clip-path="url(#p34df9579a1)" style="fill: none; stroke: #000000; stroke-width: 1.5; stroke-linecap: round"/>
<path d="M 277.730949 480.48
L 283.730949 483.48
L 277.730949 486.48
z
" clip-path="url(#p34df9579a1)" style="stroke: #000000; stroke-width: 1.5; stroke-linecap: round"/>
<path d="M 63.081051 486.48
L 57.081051 483.48
L 63.081051 480.48
z
" clip-path="url(#p34df9579a1)" style="stroke: #000000; stroke-width: 1.5; stroke-linecap: round"/>
</g>
<g id="patch_15">
<path d="M 283.730949 506.16
Q 272.7 506.16 261.669051 506.16
" clip-path="url(#p34df9579a1)" style="fill: none; stroke: #000000; stroke-width: 1.5; stroke-linecap: round"/>
<path d="M 277.730949 503.16
L 283.730949 506.16
L 277.730949 509.16
z
" clip-path="url(#p34df9579a1)" style="stroke: #000000; stroke-width: 1.5; stroke-linecap: round"/>
<path d="M 267.669051 509.16
L 261.669051 506.16
L 267.669051 503.16
z
" clip-path="url(#p34df9579a1)" style="stroke: #000000; stroke-width: 1.5; stroke-linecap: round"/>
</g>
<g id="patch_16">
<path d="M 375.674949 313.2
Q 329.796 313.2 283.917051 313.2
" clip-path="url(#p34df9579a1)" style="fill: none; stroke: #000000; stroke-width: 1.5; stroke-linecap: round"/>
<path d="M 369.674949 310.2
L 375.674949 313.2
L 369.674949 316.2
z
" clip-path="url(#p34df9579a1)" style="stroke: #000000; stroke-width: 1.5; stroke-linecap: round"/>
<path d="M 289.917051 316.2
L 283.917051 313.2
L 289.917051 310.2
z
" clip-path="url(#p34df9579a1)" style="stroke: #000000; stroke-width: 1.5; stroke-linecap: round"/>
</g>
<g id="text_25">
<text style="font-size: 10px; font-family: 'DejaVu Sans', 'Bitstream Vera Sans', 'Computer Modern Sans Serif', 'Lucida Grande', 'Verdana', 'Geneva', 'Lucid', 'Arial', 'Helvetica', 'Avant Garde', sans-serif; text-anchor: start" x="290.016" y="486.887375" transform="rotate(-0 290.016 486.887375)">Data Range Used (Nonlinear + Step Loading)</text>
</g>
<g id="text_26">
<text style="font-size: 10px; font-family: 'DejaVu Sans', 'Bitstream Vera Sans', 'Computer Modern Sans Serif', 'Lucida Grande', 'Verdana', 'Geneva', 'Lucid', 'Arial', 'Helvetica', 'Avant Garde', sans-serif; text-anchor: start" x="290.016" y="509.567375" transform="rotate(-0 290.016 509.567375)">Data Range Used (Nonlinear and Original Hyperbolic)</text>
</g>
<g id="text_27">
<text style="font-size: 10px; font-family: 'DejaVu Sans', 'Bitstream Vera Sans', 'Computer Modern Sans Serif', 'Lucida Grande', 'Verdana', 'Geneva', 'Lucid', 'Arial', 'Helvetica', 'Avant Garde', sans-serif; text-anchor: start" x="381.6" y="316.607375" transform="rotate(-0 381.6 316.607375)">RMSE Estimation Section</text>
</g>
<g id="text_28">
<g id="patch_17">
<path d="M 497.1131 297.0715
L 694.8000 297.0715
Q 697.5240 297.0715 697.5240 294.3475
L 697.5240 244.5005
Q 697.5240 241.7765 694.8000 241.7765
L 497.1131 241.7765
Q 494.3891 241.7765 494.3891 244.5005
L 494.3891 294.3475
Q 494.3891 297.0715 497.1131 297.0715
z
" style="fill: #ffffff; fill-opacity: 0.35; stroke: #c9c9c9; stroke-linejoin: miter"/>
</g>
<text style="font-size: 12px; font-family: 'DejaVu Sans', 'Bitstream Vera Sans', 'Computer Modern Sans Serif', 'Lucida Grande', 'Verdana', 'Geneva', 'Lucid', 'Arial', 'Helvetica', 'Avant Garde', sans-serif; fill: #ff0000" transform="translate(544.010625 253.618654)">Root Mean Squared Error</text>
<text style="font-size: 12px; font-family: 'DejaVu Sans', 'Bitstream Vera Sans', 'Computer Modern Sans Serif', 'Lucida Grande', 'Verdana', 'Geneva', 'Lucid', 'Arial', 'Helvetica', 'Avant Garde', sans-serif; fill: #ff0000" transform="translate(498.193125 266.363051)">Nonlinear + Step Loading: 3.294</text>
<text style="font-size: 12px; font-family: 'DejaVu Sans', 'Bitstream Vera Sans', 'Computer Modern Sans Serif', 'Lucida Grande', 'Verdana', 'Geneva', 'Lucid', 'Arial', 'Helvetica', 'Avant Garde', sans-serif; fill: #ff0000" transform="translate(526.26 279.107449)">Nonlinear Hyperbolic: 7.395</text>
<text style="font-size: 12px; font-family: 'DejaVu Sans', 'Bitstream Vera Sans', 'Computer Modern Sans Serif', 'Lucida Grande', 'Verdana', 'Geneva', 'Lucid', 'Arial', 'Helvetica', 'Avant Garde', sans-serif; fill: #ff0000" transform="translate(537.170625 291.851846)">Original Hyperbolic: 1.846</text>
</g>
<g id="text_29">
<g id="patch_18">
<path d="M 483.4069 388.0075
L 694.8000 388.0075
Q 697.5240 388.0075 697.5240 385.2835
L 697.5240 335.4365
Q 697.5240 332.7125 694.8000 332.7125
L 483.4069 332.7125
Q 480.6829 332.7125 480.6829 335.4365
L 480.6829 385.2835
Q 480.6829 388.0075 483.4069 388.0075
z
" style="fill: #ffffff; fill-opacity: 0.35; stroke: #c9c9c9; stroke-linejoin: miter"/>
</g>
<text style="font-size: 12px; font-family: 'DejaVu Sans', 'Bitstream Vera Sans', 'Computer Modern Sans Serif', 'Lucida Grande', 'Verdana', 'Geneva', 'Lucid', 'Arial', 'Helvetica', 'Avant Garde', sans-serif; fill: #ff0000" transform="translate(484.486875 344.554654)">Error in Final Monitored Settlement</text>
<text style="font-size: 12px; font-family: 'DejaVu Sans', 'Bitstream Vera Sans', 'Computer Modern Sans Serif', 'Lucida Grande', 'Verdana', 'Geneva', 'Lucid', 'Arial', 'Helvetica', 'Avant Garde', sans-serif; fill: #ff0000" transform="translate(498.193125 357.299051)">Nonlinear + Step Loading: 2.105</text>
<text style="font-size: 12px; font-family: 'DejaVu Sans', 'Bitstream Vera Sans', 'Computer Modern Sans Serif', 'Lucida Grande', 'Verdana', 'Geneva', 'Lucid', 'Arial', 'Helvetica', 'Avant Garde', sans-serif; fill: #ff0000" transform="translate(518.625 370.043449)">Nonlinear Hyperbolic: 11.345</text>
<text style="font-size: 12px; font-family: 'DejaVu Sans', 'Bitstream Vera Sans', 'Computer Modern Sans Serif', 'Lucida Grande', 'Verdana', 'Geneva', 'Lucid', 'Arial', 'Helvetica', 'Avant Garde', sans-serif; fill: #ff0000" transform="translate(532.84125 382.787846)">Original Hyperbolic: -4.314</text>
</g>
<g id="text_30">
<text style="font-size: 12px; font-family: 'DejaVu Sans', 'Bitstream Vera Sans', 'Computer Modern Sans Serif', 'Lucida Grande', 'Verdana', 'Geneva', 'Lucid', 'Arial', 'Helvetica', 'Avant Garde', sans-serif; text-anchor: middle" x="391.734" y="182.928" transform="rotate(-0 391.734 182.928)">1_SP-11.csv: up to 20% data used in the final step</text>
</g>
<g id="legend_1">
<g id="patch_19">
<path d="M 342.073125 232.3755
L 718.08 232.3755
Q 720.48 232.3755 720.48 229.9755
L 720.48 197.328
Q 720.48 194.928 718.08 194.928
L 342.073125 194.928
Q 339.673125 194.928 339.673125 197.328
L 339.673125 229.9755
Q 339.673125 232.3755 342.073125 232.3755
z
" style="fill: #ffffff; opacity: 0.8; stroke: #cccccc; stroke-linejoin: miter"/>
</g>
<g id="line2d_49">
<g>
<use href="#m0ef753e16d" x="356.473125" y="205.3661" style="fill: #ffffff; stroke: #000000"/>
</g>
</g>
<g id="text_31">
<text style="font-size: 12px; font-family: 'DejaVu Sans', 'Bitstream Vera Sans', 'Computer Modern Sans Serif', 'Lucida Grande', 'Verdana', 'Geneva', 'Lucid', 'Arial', 'Helvetica', 'Avant Garde', sans-serif; text-anchor: start" x="378.073125" y="208.846125" transform="rotate(-0 378.073125 208.846125)">measured data</text>
</g>
<g id="line2d_50">
<path d="M 344.473125 220.879875
L 356.473125 220.879875
L 368.473125 220.879875
" style="fill: none; stroke: #0000ff; stroke-width: 1.5; stroke-linecap: square"/>
</g>
<g id="text_32">
<text style="font-size: 12px; font-family: 'DejaVu Sans', 'Bitstream Vera Sans', 'Computer Modern Sans Serif', 'Lucida Grande', 'Verdana', 'Geneva', 'Lucid', 'Arial', 'Helvetica', 'Avant Garde', sans-serif; text-anchor: start" x="378.073125" y="225.079875" transform="rotate(-0 378.073125 225.079875)">Nonlinear + Step Loading</text>
</g>
<g id="line2d_51">
<path d="M 556.11 204.646125
L 568.11 204.646125
L 580.11 204.646125
" style="fill: none; stroke-dasharray: 5.55,2.4; stroke-dashoffset: 0; stroke: #008000; stroke-width: 1.5"/>
</g>
<g id="text_33">
<text style="font-size: 12px; font-family: 'DejaVu Sans', 'Bitstream Vera Sans', 'Computer Modern Sans Serif', 'Lucida Grande', 'Verdana', 'Geneva', 'Lucid', 'Arial', 'Helvetica', 'Avant Garde', sans-serif; text-anchor: start" x="589.71" y="208.846125" transform="rotate(-0 589.71 208.846125)">Nonlinear Hyperbolic</text>
</g>
<g id="line2d_52">
<path d="M 556.11 220.879875
L 568.11 220.879875
L 580.11 220.879875
" style="fill: none; stroke-dasharray: 5.55,2.4; stroke-dashoffset: 0; stroke: #ff0000; stroke-width: 1.5"/>
</g>
<g id="text_34">
<text style="font-size: 12px; font-family: 'DejaVu Sans', 'Bitstream Vera Sans', 'Computer Modern Sans Serif', 'Lucida Grande', 'Verdana', 'Geneva', 'Lucid', 'Arial', 'Helvetica', 'Avant Garde', sans-serif; text-anchor: start" x="589.71" y="225.079875" transform="rotate(-0 589.71 225.079875)">Original Hyperbolic</text>
</g>
</g>
</g>
</g>
<defs>
<clipPath id="p3e87ea8ec2">
<rect x="56.988" y="30.276" width="669.492" height="113.04"/>
</clipPath>
<clipPath id="p34df9579a1">
<rect x="56.988" y="188.928" width="669.492" height="340.488"/>
</clipPath>
</defs>
<defs>
<pattern id="h735a1b40cc" patternUnits="userSpaceOnUse" x="0" y="0" width="72" height="72">
<rect x="0" y="0" width="73" height="73" fill="#808080"/>
<path d="M -36 36
L 36 -36
M -30 42
L 42 -30
M -24 48
L 48 -24
M -18 54
L 54 -18
M -12 60
L 60 -12
M -6 66
L 66 -6
M 0 72
L 72 0
M 6 78
L 78 6
M 12 84
L 84 12
M 18 90
L 90 18
M 24 96
L 96 24
M 30 102
L 102 30
M 36 108
L 108 36
" style="fill: #808080; stroke: #000000; stroke-width: 1.0; stroke-linecap: butt; stroke-linejoin: miter"/>
</pattern>
<pattern id="ha346d79425" patternUnits="userSpaceOnUse" x="0" y="0" width="72" height="72">
<rect x="0" y="0" width="73" height="73" fill="#808080"/>
<path d="M -36 36
L 36 108
M -24 24
L 48 96
M -12 12
L 60 84
M 0 0
L 72 72
M 12 -12
L 84 60
M 24 -24
L 96 48
M 36 -36
L 108 36
" style="fill: #808080; stroke: #000000; stroke-width: 1.0; stroke-linecap: butt; stroke-linejoin: miter"/>
</pattern>
</defs>
</svg>

</body></html>
